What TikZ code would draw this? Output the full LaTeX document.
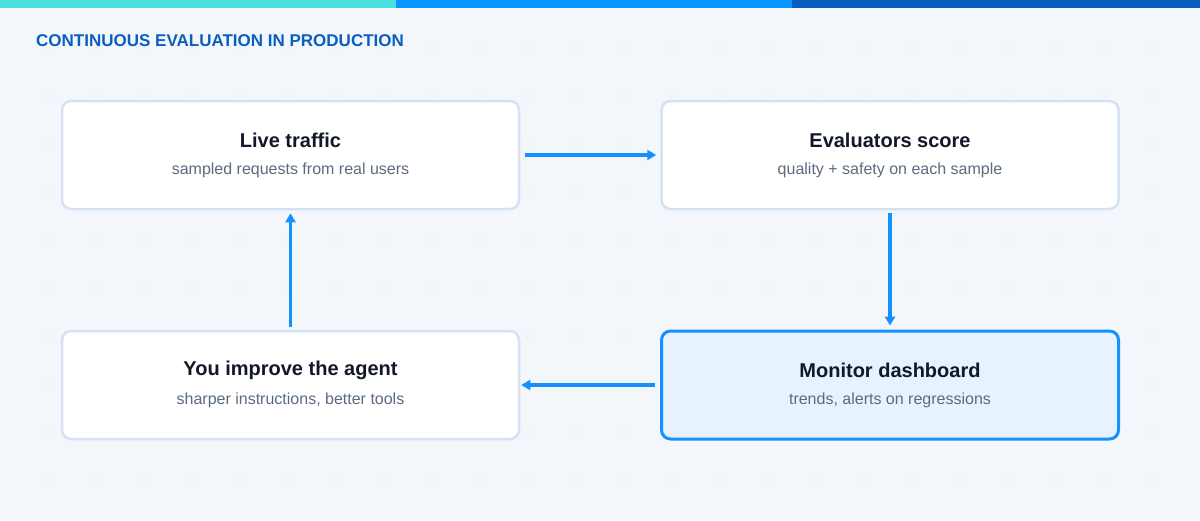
\documentclass[tikz,border=0pt]{standalone}
\usepackage{fontspec}
\setmainfont{Liberation Sans}
\usetikzlibrary{arrows.meta}
\definecolor{bg}{HTML}{F3F7FC}
\definecolor{barA}{HTML}{4DE0E0}
\definecolor{barB}{HTML}{0A96FF}
\definecolor{barC}{HTML}{0A5EC0}
\definecolor{titleblue}{HTML}{0A5EC0}
\definecolor{boxborder}{HTML}{D5E2F3}
\definecolor{hiborder}{HTML}{1490FF}
\definecolor{hifill}{HTML}{E8F2FF}
\definecolor{arrowblue}{HTML}{1490FF}
\definecolor{headtext}{HTML}{111827}
\definecolor{subtext}{HTML}{5B6B80}
\definecolor{dotc}{HTML}{DCE3F0}
\tikzset{
  card/.style={draw=boxborder, line width=2.5pt, fill=white, rounded corners=9pt,
    minimum width=457pt, minimum height=108pt, inner sep=0pt},
  hicard/.style={card, draw=hiborder, fill=hifill, line width=3pt},
  flow/.style={draw=arrowblue, line width=3.5pt, -{Triangle[length=9pt,width=10pt]}},
  headlbl/.style={font=\fontsize{20}{24}\selectfont\bfseries, text=headtext},
  sublbl/.style={font=\fontsize{16}{19}\selectfont, text=subtext},
}
\begin{document}
\begin{tikzpicture}[x=1pt,y=-1pt]
\useasboundingbox (0,0) rectangle (1200,520);
\fill[bg] (0,0) rectangle (1200,520);
\fill[barA] (0,0) rectangle (396,8);
\fill[barB] (396,0) rectangle (792,8);
\fill[barC] (792,0) rectangle (1200,8);
\foreach \i in {1,...,24} {
  \foreach \j in {1,...,10} {
    \fill[dotc] (48*\i,48*\j) circle (1pt);
  }
}
\node[anchor=base west, font=\fontsize{17}{20}\selectfont\bfseries, text=titleblue, inner sep=0pt] (title) at (36,46) {CONTINUOUS EVALUATION IN PRODUCTION};

\node[card] (live) at (290.5,155) {};
\node[card] (eval) at (890,155) {};
\node[card] (you) at (290.5,385) {};
\node[hicard] (mon) at (890,385) {};

\node[headlbl] (liveh) at (290.5,140) {Live traffic};
\node[sublbl] (lives) at (290.5,170.5) {sampled requests from real users};
\node[headlbl] (evalh) at (890,140) {Evaluators score};
\node[sublbl] (evals) at (890,170.5) {quality + safety on each sample};
\node[headlbl] (youh) at (290.5,370) {You improve the agent};
\node[sublbl] (yous) at (290.5,400.5) {sharper instructions, better tools};
\node[headlbl] (monh) at (890,370) {Monitor dashboard};
\node[sublbl] (mons) at (890,400.5) {trends, alerts on regressions};

\draw[flow, shorten <=5pt, shorten >=4pt] (live.east) -- (eval.west);
\draw[flow, shorten <=3pt, shorten >=4pt] (eval.south) -- (mon.north);
\draw[flow, shorten <=5pt, shorten >=1pt] (mon.west) -- (you.east);
\draw[flow, shorten <=3pt, shorten >=3pt] (you.north) -- (live.south);
\end{tikzpicture}
\end{document}
